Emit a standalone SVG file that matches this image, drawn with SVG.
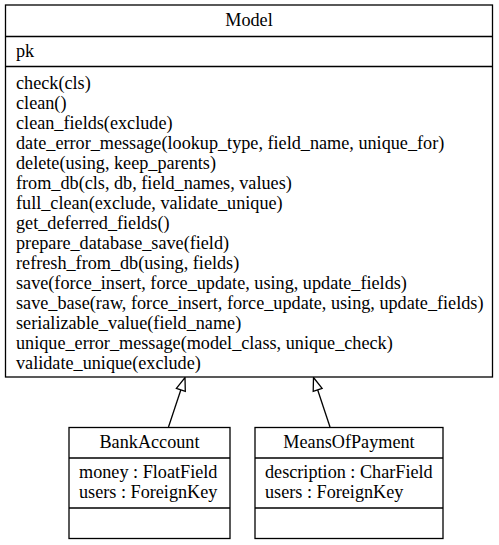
<svg xmlns="http://www.w3.org/2000/svg" width="499" height="545" viewBox="0 0 499 545">
<defs>
<style>
text{font-family:"Liberation Serif","Times New Roman",serif;font-size:18.2px;fill:#000}
.c{text-anchor:middle}
.box{fill:#fff;stroke:#000;stroke-width:1.3}
.sep{stroke:#000;stroke-width:1.3}
.edge{fill:none;stroke:#000;stroke-width:1.3}
.head{fill:#fff;stroke:#000;stroke-width:1.3}
</style>
</defs>
<rect width="499" height="545" fill="#fff"/>
<g id="connectors">
<line class="edge" x1="168.5" y1="427" x2="180.8" y2="390"/>
<polygon class="head" points="185,377.5 185.3,391.3 176.4,388.4"/>
<line class="edge" x1="330" y1="427" x2="317.7" y2="390"/>
<polygon class="head" points="313.5,377.5 322.1,388.4 313.2,391.3"/>
</g>
<g id="Model">
<rect class="box" x="5.5" y="5" width="487" height="372"/>
<line class="sep" x1="5.5" y1="36.5" x2="492.5" y2="36.5"/>
<line class="sep" x1="5.5" y1="66.5" x2="492.5" y2="66.5"/>
<text class="c" x="249" y="26">Model</text>
<text x="16" y="57">pk</text>
<text x="16" y="88.5">check(cls)</text>
<text x="16" y="108.5">clean()</text>
<text x="16" y="128.5">clean_fields(exclude)</text>
<text x="16" y="148.5">date_error_message(lookup_type, field_name, unique_for)</text>
<text x="16" y="168.5">delete(using, keep_parents)</text>
<text x="16" y="188.5">from_db(cls, db, field_names, values)</text>
<text x="16" y="208.5">full_clean(exclude, validate_unique)</text>
<text x="16" y="228.5">get_deferred_fields()</text>
<text x="16" y="248.5">prepare_database_save(field)</text>
<text x="16" y="268.5">refresh_from_db(using, fields)</text>
<text x="16" y="288.5">save(force_insert, force_update, using, update_fields)</text>
<text x="16" y="308.5">save_base(raw, force_insert, force_update, using, update_fields)</text>
<text x="16" y="328.5">serializable_value(field_name)</text>
<text x="16" y="348.5">unique_error_message(model_class, unique_check)</text>
<text x="16" y="368.5">validate_unique(exclude)</text>
</g>
<g id="BankAccount">
<rect class="box" x="69" y="427.5" width="161" height="111"/>
<line class="sep" x1="69" y1="458" x2="230" y2="458"/>
<line class="sep" x1="69" y1="508" x2="230" y2="508"/>
<text class="c" x="149.5" y="448">BankAccount</text>
<text x="79" y="478">money : FloatField</text>
<text x="79" y="498">users : ForeignKey</text>
</g>
<g id="MeansOfPayment">
<rect class="box" x="255" y="427.5" width="188" height="111"/>
<line class="sep" x1="255" y1="458" x2="443" y2="458"/>
<line class="sep" x1="255" y1="508" x2="443" y2="508"/>
<text class="c" x="349" y="448">MeansOfPayment</text>
<text x="265" y="478">description : CharField</text>
<text x="265" y="498">users : ForeignKey</text>
</g>
</svg>
